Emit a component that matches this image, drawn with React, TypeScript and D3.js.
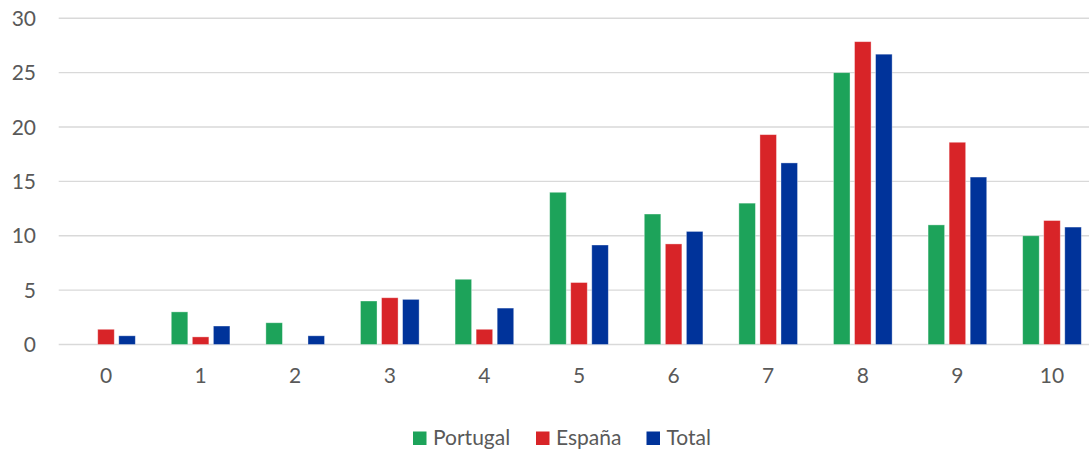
import * as d3 from "d3";
import React from "react";

// categories (score 0..10) and series values
const categories = ["0", "1", "2", "3", "4", "5", "6", "7", "8", "9", "10"];
const seriesNames = ["Portugal", "España", "Total"];
const portugal = [0, 3, 2, 4, 6, 14, 12, 13, 25, 11, 10];
const espana = [1.4, 0.7, 0, 4.3, 1.4, 5.7, 9.25, 19.3, 27.85, 18.6, 11.4];
const total = [0.8, 1.7, 0.8, 4.15, 3.35, 9.15, 10.4, 16.7, 26.7, 15.4, 10.8];
const yTicks = [0, 5, 10, 15, 20, 25, 30];

const colors = ["#1da35a", "#d82428", "#00339a"];
const font = "Lato, 'Open Sans', sans-serif";

export default function App() {
    const W = 1089;
    const H = 454;
    const margin = { left: 58.7, right: 1099.3, top: 18.3, bottom: 344.5 };

    const values = [portugal, espana, total];

    const x0 = d3.scaleBand<string>()
        .domain(categories)
        .range([margin.left, margin.right])
        .padding(0);

    const groupW = x0.bandwidth() * 0.62;
    const x1 = d3.scaleBand<string>()
        .domain(seriesNames)
        .range([0, groupW])
        .paddingInner(0.214)
        .paddingOuter(0);
    const groupOff = (x0.bandwidth() - groupW) / 2;

    const y = d3.scaleLinear().domain([0, 30]).range([margin.bottom, margin.top]);

    // legend layout
    const legendX = [413, 536, 646.5];

    return (
        <svg width={W} height={H} style={{ position: "absolute", left: 0, top: 0, background: "#fff" }}>
            {/* gridlines */}
            {yTicks.map(t => (
                <line key={"g" + t} x1={margin.left} x2={margin.right} y1={y(t)} y2={y(t)}
                    stroke="#d9d9d9" strokeWidth={1.4} />
            ))}
            {/* y labels */}
            {yTicks.map(t => (
                <text key={"yl" + t} x={36} y={y(t)} dy="0.36em" textAnchor="end"
                    fontFamily={font} fontSize={21} fill="#595959">{t}</text>
            ))}
            {/* bars */}
            {categories.map((c, i) => (
                <g key={"c" + c} transform={"translate(" + ((x0(c) as number) + groupOff) + ",0)"}>
                    {seriesNames.map((s, j) => {
                        const v = values[j][i];
                        if (v <= 0) return null;
                        return <rect key={s} x={x1(s)} y={y(v)} width={x1.bandwidth()}
                            height={y(0) - y(v)} fill={colors[j]}
                            stroke="#ffffff" strokeOpacity={0.45} strokeWidth={0.8} />;
                    })}
                </g>
            ))}
            {/* x labels */}
            {categories.map(c => (
                <text key={"xl" + c} x={(x0(c) as number) + x0.bandwidth() / 2} y={383}
                    textAnchor="middle" fontFamily={font} fontSize={21} fill="#595959">{c}</text>
            ))}
            {/* legend */}
            {seriesNames.map((s, j) => (
                <g key={"lg" + s} transform={"translate(" + legendX[j] + ",0)"}>
                    <rect x={0} y={431.5} width={13.5} height={13.5} fill={colors[j]} />
                    <text x={20} y={445} fontFamily={font} fontSize={21} fill="#595959">{s}</text>
                </g>
            ))}
        </svg>
    );
}
